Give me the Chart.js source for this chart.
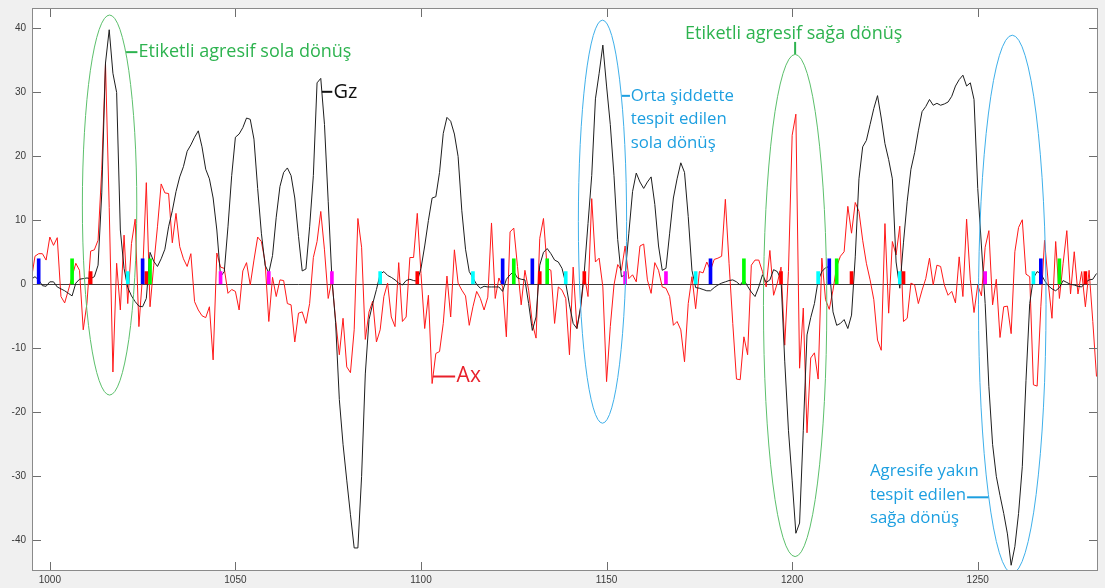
<!DOCTYPE html>
<html>
<head>
<meta charset="utf-8">
<title>Gz / Ax</title>
<script src="https://cdn.jsdelivr.net/npm/chart.js@4/dist/chart.umd.min.js"></script>
<style>
  html, body { margin: 0; padding: 0; background: #f0f0f0; }
  canvas { display: block; }
</style>
</head>
<body>
<canvas id="chart" width="1105" height="588"></canvas>
<script>
// Sample numbers run consecutively from this first index.
const firstSample = 995;

// Yaw rate (Gz), one value per sample, 995 .. 1282
const gz = [
  0.8, 1.2, 0.7, -0.2, -0.3, 0.4, 0.4, -0.4, -0.7, -1.0,
  -1.4, -1.8, 0.2, 0.8, 0.9, 1.0, 0.9, 1.2, 3.0, 14.3,
  34.6, 39.8, 33.0, 30.0, 8.5, 2.5, -0.5, -1.8, -2.7, -3.4,
  -3.5, -2.2, 5.0, 3.6, 2.8, 4.0, 5.5, 9.0, 11.5, 14.5,
  16.8, 18.4, 20.8, 21.8, 23.0, 24.0, 21.5, 18.0, 16.5, 13.5,
  8.5, 1.2, 2.0, 9.0, 17.0, 23.0, 23.5, 24.5, 26.0, 25.8,
  22.7, 15.0, 8.0, 3.0, 1.8, 4.5, 10.5, 15.3, 17.5, 18.2,
  17.0, 13.5, 7.5, 2.1, 2.4, 9.0, 17.0, 31.5, 32.2, 25.0,
  13.0, 1.0, -6.0, -18.0, -25.0, -30.6, -36.0, -41.2, -41.2, -30.0,
  -14.0, -5.5, -3.0, -0.8, 1.6, 2.0, 1.4, 1.1, 0.7, 0.2,
  -0.1, 0.6, 0.8, 0.6, 0.5, 2.5, 6.0, 10.0, 13.5, 13.7,
  17.5, 23.6, 26.1, 25.5, 23.5, 20.0, 11.5, 5.5, 2.0, 1.0,
  0.0, -0.6, -0.3, -0.4, -0.4, -0.4, -0.4, -1.1, 0.8, 1.5,
  2.0, 1.0, 0.8, 0.7, -3.0, -7.2, -5.1, 3.0, 5.0, 5.6,
  4.8, 3.8, 3.5, 2.5, 0.2, -3.2, -6.1, -6.9, -3.5, 2.0,
  9.5, 17.0, 29.0, 33.0, 37.4, 31.0, 25.0, 17.0, 7.0, 1.2,
  1.5, 8.0, 14.5, 17.4, 16.0, 15.0, 16.0, 16.8, 12.5, 6.0,
  2.2, 2.5, 8.0, 13.5, 16.5, 19.0, 17.5, 10.6, 2.2, -0.5,
  -0.6, -0.8, -1.0, -1.0, -0.5, -0.1, 0.2, 0.4, 0.6, 0.7,
  0.4, -0.1, 0.7, -0.3, -1.2, -1.9, -0.4, 1.5, 0.3, 0.7,
  2.3, 2.0, 0.8, -12.0, -22.8, -30.6, -38.9, -37.3, -22.8, -7.9,
  -5.2, -3.0, 0.6, 2.0, 2.6, 2.8, -4.3, -6.4, -6.1, -5.5,
  -6.9, -4.8, 4.3, 16.5, 21.5, 22.5, 25.0, 27.5, 29.5, 26.0,
  22.0, 19.5, 16.5, 3.5, -0.6, 6.6, 13.0, 18.0, 20.6, 24.0,
  27.0, 27.8, 28.9, 28.0, 28.3, 28.0, 28.2, 28.5, 29.4, 31.0,
  32.0, 32.7, 31.0, 31.5, 28.9, 15.0, 6.0, -3.0, -16.0, -25.0,
  -30.0, -33.0, -35.8, -39.0, -43.9, -41.0, -35.8, -28.5, -15.0, -3.0,
  1.0, 2.0, 1.7, 0.6, -0.2, -0.7, -1.0, -0.5, 0.6, 0.3,
  0.0, -0.1, -0.3, -0.4, 0.3, 0.7, 0.8, 1.7
];

// Lateral acceleration (Ax), one value per sample, 995 .. 1282
const ax = [
  0.7, 4.4, 4.8, 4.8, 3.8, 7.4, 6.1, 7.3, -1.9, -2.9,
  -0.9, 1.2, 3.3, 2.2, -7.1, -3.0, 5.2, 5.4, 6.9, 18.0,
  34.5, 12.0, -13.7, 3.3, -4.0, 7.7, -3.0, 6.4, 10.2, -6.6,
  1.5, 15.9, -3.5, 3.0, 9.0, 15.7, 14.3, 14.2, 6.5, 11.1,
  5.9, 4.0, 2.8, 4.8, -2.7, -4.0, -4.9, -5.2, -3.5, -11.8,
  4.9, 2.7, 2.5, -1.4, -0.8, -1.1, -4.0, 2.1, 3.4, -0.1,
  3.8, 7.4, 6.7, 3.5, -5.8, 1.1, -1.9, 0.7, 0.6, -3.0,
  -3.2, -9.0, -4.5, -4.3, -6.1, -3.0, 4.2, 6.7, 11.4, 5.4,
  -2.2, 0.7, -5.6, -11.0, -5.3, -12.9, -13.8, -7.1, 10.3, 5.8,
  -8.6, -4.3, -2.6, -9.0, -7.1, -1.9, 0.2, -5.1, -6.6, 3.4,
  -5.8, -5.1, 4.2, 4.2, 11.1, 1.7, -6.9, -1.7, -15.5, -10.8,
  -10.5, -6.1, 1.3, -5.1, 5.4, 0.2, -0.9, -1.8, -6.4, -3.5,
  -1.1, -2.2, -4.0, -2.0, 9.6, -2.2, 1.0, -0.4, -8.2, 8.2,
  8.8, 2.8, -3.2, 2.2, -0.9, -6.1, -8.4, 7.2, 10.3, 2.5,
  2.2, -6.1, -0.4, -0.9, -2.2, -11.0, 2.7, -6.9, -3.8, 1.5,
  -1.9, 13.4, 3.5, 4.1, -0.4, -15.2, -6.6, -0.1, 3.1, 2.2,
  6.0, 0.9, 1.5, 0.4, 6.0, 6.3, 0.7, -1.4, 3.4, 2.2,
  -0.4, -0.6, -1.9, -6.4, -5.8, -7.1, -12.1, -3.0, 1.2, -3.8,
  2.0, 1.8, 3.5, 2.2, 3.9, 4.1, 4.4, 13.3, 3.3, -6.1,
  -14.8, -14.9, -8.2, -11.0, 3.0, 3.8, 3.8, 2.0, -0.4, 5.3,
  -1.7, 0.2, 2.7, -9.5, 2.0, 23.3, 26.6, -13.1, -3.7, -23.2,
  -11.5, -10.7, -14.8, 4.1, -2.4, -3.9, -0.9, 2.8, 4.4, 5.1,
  12.2, 8.0, 12.8, 11.4, 6.9, 3.3, 0.7, -2.4, -8.7, -10.3,
  9.5, -4.5, 6.7, 4.6, 9.1, -5.8, -5.3, 0.2, -0.1, -3.0,
  -0.9, 0.9, 4.1, -0.1, 3.0, 2.8, -0.1, -1.7, -1.1, -2.9,
  4.3, -1.9, 10.2, 0.7, -4.4, -0.1, -1.8, 5.8, 8.4, -3.2,
  0.8, -8.3, -3.5, -3.4, -7.7, 5.1, 8.9, 10.1, 1.6, 1.2,
  -15.7, -15.9, -3.5, 6.9, 0.2, -5.3, 6.7, -2.2, 3.3, 8.4,
  -1.5, 5.1, -1.5, 2.0, -3.5, 2.2, -5.8, -14.4
];

// Event flags: sample positions of each flag class
const blueFlags = [997, 1025, 1122, 1130, 1178, 1210, 1267];
const greenFlags = [1006, 1027, 1125, 1134, 1187, 1212, 1272];
const redFlags = [1011, 1026, 1099, 1132, 1144, 1197, 1216, 1230, 1279];
const cyanFlags = [1021, 1089, 1114, 1139, 1174, 1207, 1229, 1265];
const magentaFlags = [1046, 1059, 1076, 1155, 1166, 1252];
const tallFlag = 4;
const shortFlag = 2;

// Axis ticks
const xTicks = [1000, 1050, 1100, 1150, 1200, 1250];
const yTicks = [-40, -30, -20, -10, 0, 10, 20, 30, 40];

// Turn events circled on the plot (data units)
const ringCenterX = [1016.1, 1148.9, 1200.8, 1259.3];
const ringCenterY = [12.4, 9.8, -3.3, -3.1];
const ringHalfWidth = [7.33, 6.5, 8.53, 9.1];
const ringHalfHeight = [29.7, 31.5, 39.25, 42.05];

const GREEN_TEXT = '#2db34f';
const GREEN_RING = '#5cc06c';
const BLUE_TEXT = '#1d9fe0';
const BLUE_RING = '#3fb0ea';
const ringColors = [GREEN_RING, BLUE_RING, GREEN_RING, BLUE_RING];
const NOTE_FONT = '"Open Sans", "Noto Sans", sans-serif';
const GREEN_SIZE = 18;
const BLUE_SIZE = 16.8;

const series = (values) => values.map((v, i) => ({ x: firstSample + i, y: v }));
const flags = (positions, h) => positions.map(p => ({ x: p, y: h }));

// Background, box and inward tick marks
const frame = {
  id: 'frame',
  beforeDraw(chart) {
    const { ctx, chartArea: a } = chart;
    ctx.save();
    ctx.fillStyle = '#f0f0f0';
    ctx.fillRect(0, 0, chart.width, chart.height);
    ctx.fillStyle = '#ffffff';
    ctx.fillRect(a.left, a.top, a.right - a.left, a.bottom - a.top);
    ctx.restore();
  },
  afterDraw(chart) {
    const { ctx, chartArea: a, scales: { x, y } } = chart;
    const len = 9;
    ctx.save();
    ctx.strokeStyle = '#6e6e6e';
    ctx.lineWidth = 1;
    ctx.beginPath();
    xTicks.forEach(v => {
      const px = Math.round(x.getPixelForValue(v)) + 0.5;
      ctx.moveTo(px, a.bottom); ctx.lineTo(px, a.bottom - len);
      ctx.moveTo(px, a.top); ctx.lineTo(px, a.top + len);
    });
    yTicks.forEach(v => {
      const py = Math.round(y.getPixelForValue(v)) + 0.5;
      ctx.moveTo(a.left, py); ctx.lineTo(a.left + len, py);
      ctx.moveTo(a.right, py); ctx.lineTo(a.right - len, py);
    });
    ctx.stroke();
    ctx.strokeStyle = '#8a8a8a';
    ctx.strokeRect(a.left + 0.5, a.top + 0.5, a.right - a.left - 1, a.bottom - a.top - 1);
    ctx.restore();
  }
};

// Rings around turn events and the callout labels
const callouts = {
  id: 'callouts',
  afterDatasetsDraw(chart) {
    const { ctx, chartArea: a, scales: { x, y } } = chart;
    ctx.save();
    ctx.beginPath();
    ctx.rect(a.left, a.top, a.right - a.left, a.bottom - a.top);
    ctx.clip();
    ctx.lineWidth = 1;
    ringCenterX.forEach((cx, i) => {
      const px = x.getPixelForValue(cx);
      const py = y.getPixelForValue(ringCenterY[i]);
      const rx = Math.abs(x.getPixelForValue(cx + ringHalfWidth[i]) - px);
      const ry = Math.abs(y.getPixelForValue(ringCenterY[i] + ringHalfHeight[i]) - py);
      ctx.strokeStyle = ringColors[i];
      ctx.beginPath();
      ctx.ellipse(px, py, rx, ry, 0, 0, Math.PI * 2);
      ctx.stroke();
    });
    ctx.restore();

    const X = v => x.getPixelForValue(v);
    const Y = v => y.getPixelForValue(v);
    const line = (x1, y1, x2, y2, color, w) => {
      ctx.strokeStyle = color; ctx.lineWidth = w;
      ctx.beginPath(); ctx.moveTo(x1, y1); ctx.lineTo(x2, y2); ctx.stroke();
    };
    const text = (str, px, py, color, size, align) => {
      ctx.font = size + 'px ' + NOTE_FONT;
      ctx.fillStyle = color;
      ctx.textAlign = align || 'left';
      ctx.textBaseline = 'middle';
      ctx.fillText(str, px, py);
      return ctx.measureText(str).width;
    };

    ctx.save();
    // left labelled turn
    line(X(1020.55), Y(36.3), X(1023.6), Y(36.3), GREEN_TEXT, 2);
    text('Etiketli agresif sola dönüş', X(1023.9), Y(36.3), GREEN_TEXT, GREEN_SIZE);

    // series names
    line(X(1073.3), Y(30.1), X(1076.1), Y(30.1), '#111111', 2);
    text('Gz', X(1076.4), Y(30.1), '#111111', 20);
    line(X(1103.2), Y(-14.4), X(1109.2), Y(-14.4), '#e8202a', 2);
    text('Ax', X(1109.6), Y(-14.4), '#e8202a', 21);

    // medium left turn
    line(X(1154.1), Y(29.47), X(1156.3), Y(29.47), BLUE_TEXT, 2);
    text('Orta şiddette', X(1156.5), Y(29.47), BLUE_TEXT, BLUE_SIZE);
    text('tespit edilen', X(1156.5), Y(25.83), BLUE_TEXT, BLUE_SIZE);
    text('sola dönüş', X(1156.5), Y(22.13), BLUE_TEXT, BLUE_SIZE);

    // right labelled turn
    text('Etiketli agresif sağa dönüş', X(1200.4), Y(39.1), GREEN_TEXT, GREEN_SIZE, 'center');
    line(X(1200.8), Y(37.9), X(1200.8), Y(36.0), GREEN_TEXT, 2);

    // near-aggressive right turn
    text('Agresife yakın', X(1220.96), Y(-29.28), BLUE_TEXT, BLUE_SIZE);
    const w = text('tespit edilen', X(1220.96), Y(-32.92), BLUE_TEXT, BLUE_SIZE);
    line(X(1220.96) + w + 1, Y(-33.28), X(1252.9), Y(-33.28), BLUE_TEXT, 2);
    text('sağa dönüş', X(1220.96), Y(-36.56), BLUE_TEXT, BLUE_SIZE);
    ctx.restore();
  }
};

const flagSet = (positions, h, color) => ({
  type: 'bar',
  data: flags(positions, h),
  backgroundColor: color,
  borderWidth: 0,
  barThickness: 3,
  grouped: false,
  order: 0
});

const tickFont = { family: '"Liberation Sans", Arial, sans-serif', size: 10 };

// The plot box is placed exactly, so the scales may not add label padding.
const noScalePadding = s => {
  s.paddingTop = 0; s.paddingBottom = 0; s.paddingLeft = 0; s.paddingRight = 0;
};

new Chart(document.getElementById('chart'), {
  type: 'line',
  data: {
    datasets: [
      {
        label: 'Ax', data: series(ax), borderColor: 'rgb(255,25,25)', borderWidth: 1,
        pointRadius: 0, tension: 0, order: 2
      },
      {
        label: 'Gz', data: series(gz), borderColor: '#1e1e1e', borderWidth: 1,
        pointRadius: 0, tension: 0, order: 1
      },
      flagSet(blueFlags, tallFlag, '#0000ff'),
      flagSet(greenFlags, tallFlag, '#00ff00'),
      flagSet(redFlags, shortFlag, '#ff0000'),
      flagSet(cyanFlags, shortFlag, '#00ffff'),
      flagSet(magentaFlags, shortFlag, '#ff00ff')
    ]
  },
  options: {
    responsive: false,
    animation: false,
    devicePixelRatio: 1,
    layout: { padding: { left: 0, top: 8, right: 7, bottom: 0 } },
    plugins: { legend: { display: false }, tooltip: { enabled: false } },
    scales: {
      x: {
        type: 'linear', min: 995.2, max: 1282.4, offset: false,
        afterBuildTicks: s => { s.ticks = xTicks.map(v => ({ value: v })); },
        afterFit: s => { s.height = 17; noScalePadding(s); },
        grid: { display: false, drawTicks: false },
        border: { display: false },
        ticks: {
          font: tickFont, color: '#3a3a3a', padding: 3, maxRotation: 0, autoSkip: false,
          callback: v => String(v)
        }
      },
      y: {
        type: 'linear', min: -44.8, max: 43.2,
        afterBuildTicks: s => { s.ticks = yTicks.map(v => ({ value: v })); },
        afterFit: s => { s.width = 32; noScalePadding(s); },
        grid: {
          drawTicks: false,
          color: c => (c.tick && c.tick.value === 0) ? '#3c3c3c' : 'rgba(0,0,0,0)',
          lineWidth: 1
        },
        border: { display: false },
        ticks: {
          font: tickFont, color: '#3a3a3a', padding: 6, autoSkip: false,
          callback: v => String(v)
        }
      }
    }
  },
  plugins: [frame, callouts]
});
</script>
</body>
</html>
